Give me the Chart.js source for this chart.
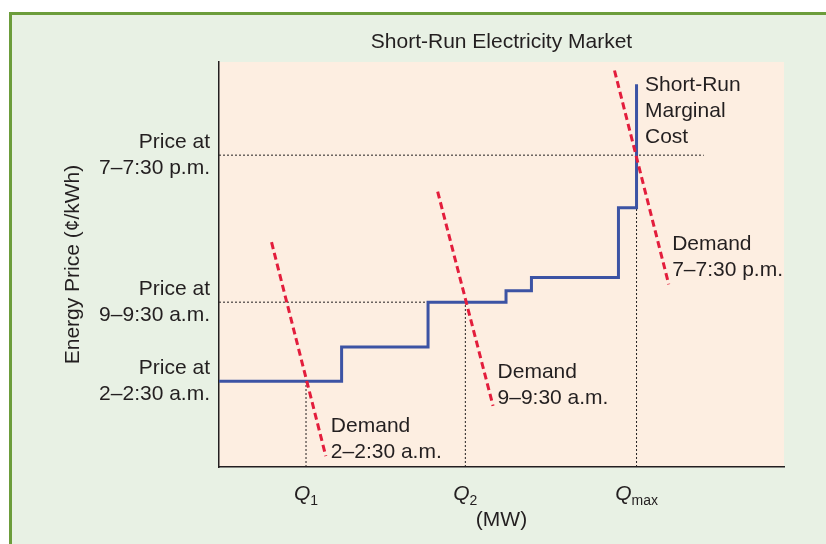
<!DOCTYPE html>
<html>
<head>
<meta charset="utf-8">
<script src="https://cdn.jsdelivr.net/npm/chart.js@4.4.1/dist/chart.umd.min.js"></script>
<style>
  body { margin: 0; background: #fff; }
  canvas { display: block; }
</style>
</head>
<body>
<canvas id="market-chart" width="826" height="544"></canvas>
<script>
// supply curve (step points), demand segments and clearing points
const supplyQ = [0, 21.7, 37.0, 50.8, 55.3, 70.7, 73.9];
const supplyCost = [21.2, 29.6, 40.7, 43.5, 46.8, 64.0, 94.5];

const periods = ["2–2:30 a.m.", "9–9:30 a.m.", "7–7:30 p.m."];
const demandQ = [[9.3, 18.9], [38.7, 48.5], [70.0, 79.6]];
const demandP = [[55.5, 2.7], [68.0, 15.1], [97.9, 45.1]];

const clearingQ = [15.4, 43.6, 73.9];
const clearingP = [21.2, 40.7, 77.0];
const guideEndQ = [15.4, 43.6, 85.8];
const qSubscripts = ["1", "2", "max"];

const textColor = "#231f20";
const fontFamily = "'Liberation Sans', Arial, Helvetica, sans-serif";

const demandSets = demandQ.map((qs, i) => ({
  label: "Demand " + periods[i],
  data: qs.map((q, j) => ({ x: q, y: demandP[i][j] })),
  borderColor: "#e31d3c",
  borderWidth: 3,
  borderDash: [7, 4],
  order: 0,
}));

const guideSets = [];
clearingQ.forEach((q, i) => {
  guideSets.push({
    label: "price " + i,
    data: [{ x: 0, y: clearingP[i] }, { x: guideEndQ[i], y: clearingP[i] }],
    borderColor: textColor, borderWidth: 1, borderDash: [2, 2], order: 2,
  });
  guideSets.push({
    label: "qty " + i,
    data: [{ x: q, y: 0 }, { x: q, y: clearingP[i] }],
    borderColor: textColor, borderWidth: 1, borderDash: [2, 2], order: 2,
  });
});

const notes = [
  { lines: ["Short-Run", "Marginal", "Cost"], x: 75.4, y: 94.2 },
  { lines: ["Demand", periods[2]], x: 80.2, y: 55.1 },
  { lines: ["Demand", periods[1]], x: 49.3, y: 23.3 },
  { lines: ["Demand", periods[0]], x: 19.8, y: 10.0 },
];

const decor = {
  id: "decor",
  beforeDraw(chart) {
    const { ctx, chartArea: a } = chart;
    ctx.save();
    ctx.fillStyle = "#ffffff";
    ctx.fillRect(0, 0, chart.width, chart.height);
    ctx.fillStyle = "#e8f1e4";
    ctx.fillRect(9, 12, chart.width, chart.height);
    ctx.fillStyle = "#6c9d3b";
    ctx.fillRect(9, 12, 3, chart.height);
    ctx.fillRect(9, 12, chart.width, 3);
    ctx.fillStyle = "#fdeee1";
    ctx.fillRect(a.left, a.top, a.right - a.left, a.bottom - a.top);
    ctx.restore();
  },
  afterDraw(chart) {
    const { ctx, scales } = chart;
    const xs = scales.x, ys = scales.y;
    ctx.save();
    ctx.fillStyle = textColor;
    ctx.textBaseline = "middle";
    ctx.textAlign = "left";
    ctx.font = "21px " + fontFamily;
    notes.forEach((n) => {
      const px = xs.getPixelForValue(n.x);
      const py = ys.getPixelForValue(n.y);
      n.lines.forEach((t, k) => ctx.fillText(t, px, py + k * 26));
    });
    // Q tick labels with subscripts
    ctx.textBaseline = "alphabetic";
    xs.ticks.forEach((tk, i) => {
      const px = xs.getPixelForValue(tk.value);
      ctx.font = "italic 21px " + fontFamily;
      const wq = ctx.measureText("Q").width;
      ctx.font = "14px " + fontFamily;
      const ws = ctx.measureText(qSubscripts[i]).width;
      const x0 = px - (wq + ws) / 2;
      ctx.font = "italic 21px " + fontFamily;
      ctx.fillText("Q", x0, 500);
      ctx.font = "14px " + fontFamily;
      ctx.fillText(qSubscripts[i], x0 + wq, 505);
    });
    ctx.restore();
  },
};

new Chart(document.querySelector("#market-chart"), {
  type: "scatter",
  data: {
    datasets: [
      ...demandSets,
      {
        label: "Short-Run Marginal Cost",
        data: supplyQ.map((q, i) => ({ x: q, y: supplyCost[i] })),
        stepped: "before",
        borderColor: "#3c53a4",
        borderWidth: 3,
        order: 1,
      },
      ...guideSets,
    ],
  },
  options: {
    responsive: false,
    animation: false,
    showLine: true,
    pointRadius: 0,
    pointHoverRadius: 0,
    layout: { padding: { left: 12, right: 42, top: 12, bottom: 0 } },
    plugins: {
      legend: { display: false },
      tooltip: { enabled: false },
      title: {
        display: true,
        text: "Short-Run Electricity Market",
        fullSize: false,
        color: textColor,
        font: { family: fontFamily, size: 21, weight: "normal" },
        padding: { top: 17.4, bottom: 7.4 },
      },
    },
    scales: {
      x: {
        type: "linear",
        min: 0,
        max: 100,
        afterFit: (s) => { s.height = 77; },
        afterBuildTicks: (s) => { s.ticks = clearingQ.map((v) => ({ value: v })); },
        ticks: { display: false },
        grid: { display: false, drawTicks: false },
        border: { color: textColor, width: 1.5 },
        title: {
          display: true,
          text: "(MW)",
          color: textColor,
          font: { family: fontFamily, size: 21 },
          padding: { top: 0, bottom: 11.4 },
        },
      },
      y: {
        type: "linear",
        min: 0,
        max: 100,
        afterFit: (s) => { s.width = 207; },
        afterBuildTicks: (s) => { s.ticks = clearingP.map((v) => ({ value: v })); },
        ticks: {
          padding: 9,
          color: textColor,
          font: { family: fontFamily, size: 21, lineHeight: 1.24 },
          callback: (v, i) => ["Price at", periods[i]],
        },
        grid: { display: false, drawTicks: false },
        border: { color: textColor, width: 1.5 },
        title: {
          display: true,
          text: "Energy Price (¢/kWh)",
          color: textColor,
          font: { family: fontFamily, size: 21 },
          padding: { top: 48.4, bottom: 0 },
        },
      },
    },
  },
  plugins: [decor],
});
</script>
</body>
</html>
